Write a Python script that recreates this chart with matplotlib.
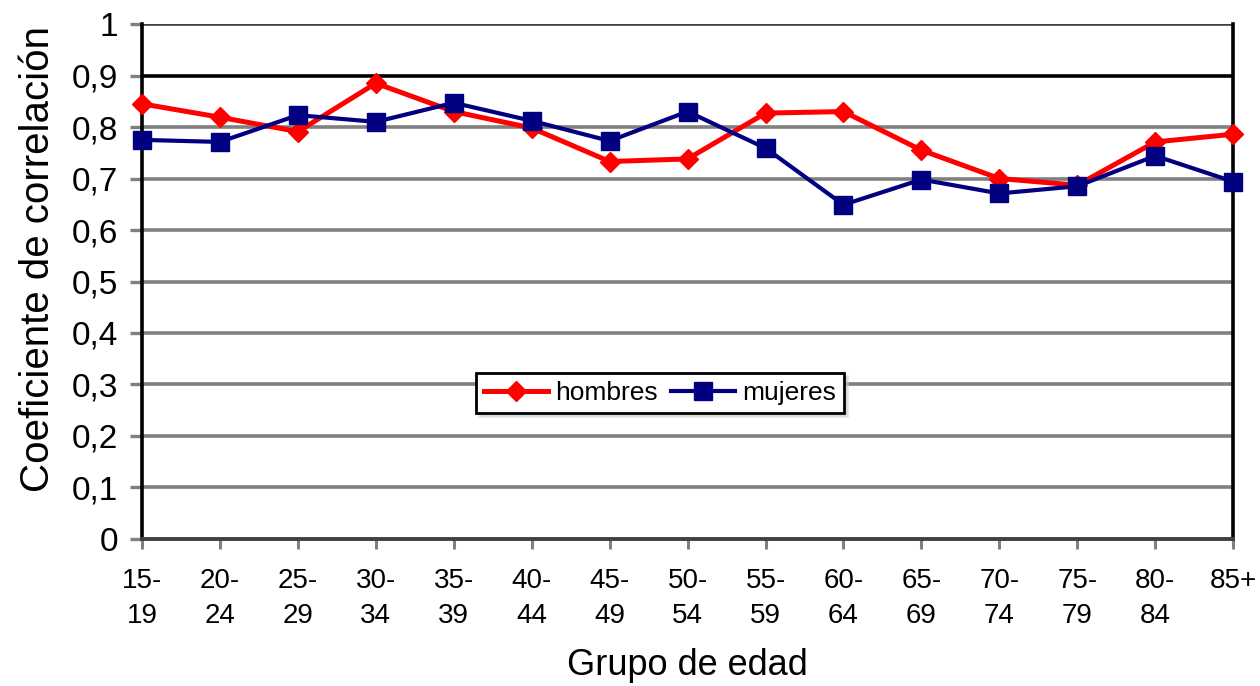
import numpy as np
import matplotlib
matplotlib.use("Agg")
import matplotlib.pyplot as plt

plt.rcParams['font.family'] = ['Liberation Sans', 'DejaVu Sans']

# Age groups and correlation coefficients per sex
grupos = ["15-\n19", "20-\n24", "25-\n29", "30-\n34", "35-\n39", "40-\n44", "45-\n49",
          "50-\n54", "55-\n59", "60-\n64", "65-\n69", "70-\n74", "75-\n79", "80-\n84", "85+"]
hombres = [0.845, 0.819, 0.791, 0.885, 0.830, 0.798, 0.733, 0.738, 0.827, 0.830,
           0.755, 0.700, 0.687, 0.771, 0.786]
mujeres = [0.775, 0.771, 0.823, 0.810, 0.847, 0.812, 0.773, 0.830, 0.759, 0.649,
           0.698, 0.671, 0.685, 0.744, 0.694]
yticks = np.round(np.arange(0, 1.01, 0.1), 1)
ylabels = ["0", "0,1", "0,2", "0,3", "0,4", "0,5", "0,6", "0,7", "0,8", "0,9", "1"]

fig = plt.figure(figsize=(12.6, 6.86), dpi=100)
ax = fig.add_axes([0.1127, 0.2143, 0.866, 0.7507])

x = np.arange(len(grupos))

ax.plot(x, hombres, color='#ff0000', lw=3.6, marker='D', ms=10.5,
        label='hombres', clip_on=False, zorder=3)
ax.plot(x, mujeres, color='#000080', lw=3.0, marker='s', ms=13,
        label='mujeres', clip_on=False, zorder=4)

ax.set_xlim(0, len(grupos) - 1)
ax.set_ylim(0, 1)

# horizontal gridlines, darker near the top
for v in yticks[1:]:
    c = '#808080'
    if v == 0.9:
        c = '#000000'
    elif v == 1.0:
        c = '#404040'
    ax.axhline(v, color=c, lw=2.6, zorder=1)

ax.set_yticks(yticks)
ax.set_yticklabels(ylabels, fontsize=24)
ax.set_xticks(x)
ax.set_xticklabels(grupos, fontsize=20, linespacing=1.45, va='top')

ax.tick_params(axis='y', direction='out', length=9, width=2.4, color='#808080', pad=8)
ax.tick_params(axis='x', direction='out', length=7, width=2.2, color='#808080', pad=14)

ax.spines['top'].set_visible(False)
ax.spines['left'].set_color('black')
ax.spines['left'].set_linewidth(2.6)
ax.spines['right'].set_color('black')
ax.spines['right'].set_linewidth(2.6)
ax.spines['bottom'].set_color('#404040')
ax.spines['bottom'].set_linewidth(2.8)

ax.set_ylabel('Coeficiente de correlación', fontsize=29, va='center')
ax.yaxis.set_label_coords(-0.095, 0.544)
ax.set_xlabel('Grupo de edad', fontsize=26, va='center')
ax.xaxis.set_label_coords(0.5, -0.245)

leg = ax.legend(loc='center', bbox_to_anchor=(0.475, 0.283), ncol=2, fontsize=19,
                frameon=True, fancybox=False, edgecolor='black', framealpha=1,
                handlelength=2.4, columnspacing=0.5, handletextpad=0.3,
                borderpad=0.3, shadow={'color': '0.8'})
leg.get_frame().set_linewidth(2.0)
leg.set_zorder(5)

fig.savefig('out.png', dpi=100)
